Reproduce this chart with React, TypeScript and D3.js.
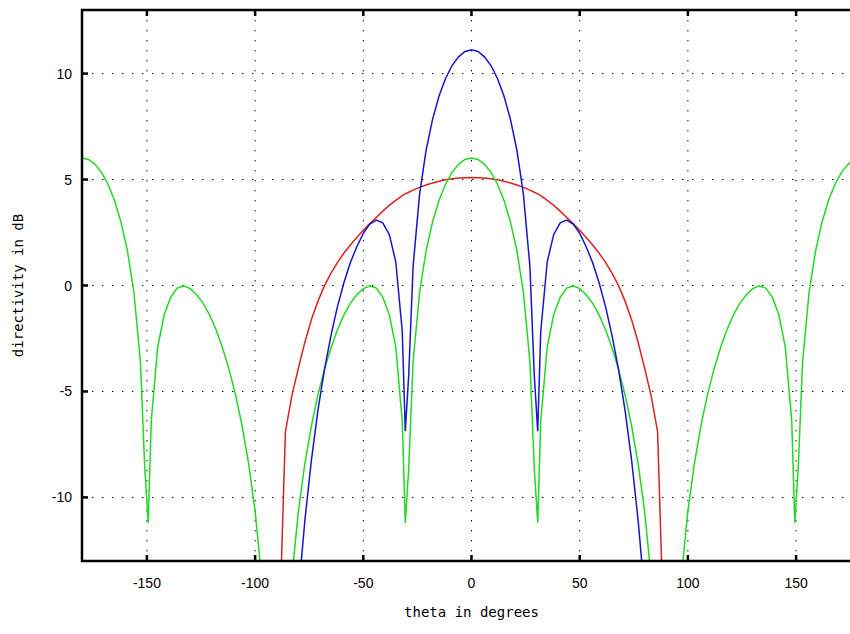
import * as d3 from "d3";

// sample angles in degrees (shared by all three curves)
const angles = [
  -180, -177, -174, -171, -168, -165, -162, -159, -156, -153, -151, -149.4, -148, -145, -142, -139,
  -136, -133, -130, -127, -124, -121, -118, -115, -112, -109, -106, -103, -100, -97, -94, -92, -90,
  -88, -86, -83, -80, -77, -74, -71, -68, -65, -62, -59, -56, -53, -50, -47, -44, -41, -38, -35,
  -32, -30.6, -29, -27, -24, -21, -18, -15, -12, -9, -6, -3, 0,
  3, 6, 9, 12, 15, 18, 21, 24, 27, 29, 30.6, 32, 35, 38, 41, 44, 47, 50, 53, 56, 59, 62, 65, 68,
  71, 74, 77, 80, 83, 86, 88, 90, 92, 94, 97, 100, 103, 106, 109, 112, 115, 118, 121, 124, 127,
  130, 133, 136, 139, 142, 145, 148, 149.4, 151, 153, 156, 159, 162, 165, 168, 171, 174, 177, 180,
];

// element pattern (red)
const redDb = [
  null, null, null, null, null, null, null, null, null, null, null, null, null, null, null, null,
  null, null, null, null, null, null, null, null, null, null, null, null, null, null, null, null, null,
  -13.6, -6.9, -5.2, -3.9, -2.68, -1.62, -0.75, -0.02, 0.57, 1.08, 1.52, 1.91, 2.27, 2.61, 2.92, 3.21, 3.51, 3.78, 4.02,
  4.24, 4.32, 4.4, 4.5, 4.63, 4.74, 4.84, 4.92, 4.99, 5.04, 5.07, 5.09, 5.1,
  5.09, 5.07, 5.04, 4.99, 4.92, 4.84, 4.74, 4.63, 4.5, 4.4, 4.32, 4.24, 4.02, 3.78, 3.51, 3.21, 2.92, 2.61, 2.27, 1.91, 1.52, 1.08, 0.57, -0.02,
  -0.75, -1.62, -2.68, -3.9, -5.2, -6.9, -13.6, null, null, null, null, null, null, null, null, null, null, null, null,
  null, null, null, null, null, null, null, null, null, null, null, null, null, null, null, null, null, null, null, null,
];

// total directivity (blue)
const blueDb = [
  null, null, null, null, null, null, null, null, null, null, null, null, null, null, null, null,
  null, null, null, null, null, null, null, null, null, null, null, null, null, null, null, null, null,
  null, -25.5, -18.95, -14.55, -11.08, -8.25, -5.92, -3.99, -2.39, -1.02, 0.12, 1.07, 1.83, 2.46, 2.9, 3.09, 2.96, 2.41, 1.12,
  -2.16, -6.88, -4.21, 0.89, 4.3, 6.37, 7.84, 8.94, 9.77, 10.38, 10.79, 11.04, 11.12,
  11.04, 10.79, 10.38, 9.77, 8.94, 7.84, 6.37, 4.3, 0.89, -4.21, -6.88, -2.16, 1.12, 2.41, 2.96, 3.09, 2.9, 2.46, 1.83, 1.07, 0.12, -1.02, -2.39, -3.99,
  -5.92, -8.25, -11.08, -14.55, -18.95, -25.5, null, null, null, null, null, null, null, null, null, null, null, null,
  null, null, null, null, null, null, null, null, null, null, null, null, null, null, null, null, null, null, null, null,
];

// array factor (green)
const greenDb = [
  6.02, 5.95, 5.72, 5.34, 4.78, 4.02, 3.0, 1.63, -0.33, -3.61, -8.61, -11.2, -6.4, -2.9, -1.37, -0.55,
  -0.12, -0.02, -0.15, -0.44, -0.84, -1.4, -2.1, -2.96, -3.97, -5.17, -6.63, -8.4, -10.65, -13.75, -18.6, -24.6, -40,
  -24.6, -18.6, -13.75, -10.65, -8.4, -6.63, -5.17, -3.97, -2.96, -2.1, -1.4, -0.84, -0.44, -0.15, -0.02, -0.12, -0.55, -1.37, -2.9,
  -6.4, -11.2, -8.61, -3.61, -0.33, 1.63, 3.0, 4.02, 4.78, 5.34, 5.72, 5.95, 6.02,
  5.95, 5.72, 5.34, 4.78, 4.02, 3.0, 1.63, -0.33, -3.61, -8.61, -11.2, -6.4, -2.9, -1.37, -0.55, -0.12, -0.02, -0.15, -0.44, -0.84, -1.4, -2.1, -2.96, -3.97,
  -5.17, -6.63, -8.4, -10.65, -13.75, -18.6, -24.6, -40, -24.6, -18.6, -13.75, -10.65, -8.4, -6.63, -5.17, -3.97, -2.96, -2.1, -1.4, -0.84, -0.44,
  -0.15, -0.02, -0.12, -0.55, -1.37, -2.9, -6.4, -11.2, -8.61, -3.61, -0.33, 1.63, 3.0, 4.02, 4.78, 5.34, 5.72, 5.95, 6.02,
];

const xTicks = [-150, -100, -50, 0, 50, 100, 150];
const yTicks = [-10, -5, 0, 5, 10];

const series = [
  { name: "element", values: redDb, color: "#dd2020" },
  { name: "array", values: greenDb, color: "#22d822" },
  { name: "total", values: blueDb, color: "#1616c8" },
];

export default function App() {
  const width = 850;
  const height = 634;
  const marginLeft = 82;
  const marginTop = 10;
  const plotRight = 861; // right edge of the frame lies just off the picture
  const plotBottom = 561;

  //scales
  const x = d3.scaleLinear([-180, 180], [marginLeft, plotRight]);
  const y = d3.scaleLinear([-13, 13], [plotBottom, marginTop]);

  const line = (vals: (number | null)[]) =>
    d3
      .line<number>()
      .defined((_, i) => vals[i] != null)
      .x((a) => x(a))
      .y((_, i) => y(vals[i] as number))(angles);

  const tickFont = "'Liberation Sans', Arial, sans-serif";
  const titleFont = "'DejaVu Sans Mono', 'Liberation Mono', monospace";

  return (
    <svg
      width={width}
      height={height}
      style={{ position: "absolute", left: 0, top: 0, background: "#fff" }}
    >
      <defs>
        <clipPath id="plot">
          <rect x={marginLeft} y={marginTop} width={plotRight - marginLeft} height={plotBottom - marginTop} />
        </clipPath>
      </defs>

      {/* dotted grid */}
      <g stroke="#000" strokeWidth={1} strokeDasharray="1.4 8.6">
        {xTicks.map((t) => (
          <line key={"gx" + t} x1={x(t)} x2={x(t)} y1={marginTop} y2={plotBottom} />
        ))}
        {yTicks.map((t) => (
          <line key={"gy" + t} x1={marginLeft} x2={plotRight} y1={y(t)} y2={y(t)} />
        ))}
      </g>

      {/* curves */}
      <g clipPath="url(#plot)" fill="none" strokeWidth={1.5}>
        {series.map((s) => (
          <path key={s.name} d={line(s.values) || ""} stroke={s.color} />
        ))}
      </g>

      {/* frame and ticks */}
      <g stroke="#000" strokeWidth={2.5} fill="none">
        <rect x={marginLeft} y={marginTop} width={plotRight - marginLeft} height={plotBottom - marginTop} />
        {xTicks.map((t) => (
          <g key={"tx" + t}>
            <line x1={x(t)} x2={x(t)} y1={plotBottom} y2={plotBottom - 6} />
            <line x1={x(t)} x2={x(t)} y1={marginTop} y2={marginTop + 6} />
          </g>
        ))}
        {yTicks.map((t) => (
          <line key={"ty" + t} x1={marginLeft} x2={marginLeft + 6} y1={y(t)} y2={y(t)} />
        ))}
      </g>

      {/* tick labels */}
      <g fontFamily={tickFont} fontSize={14} fill="#000">
        {xTicks.map((t) => (
          <text key={"lx" + t} x={x(t)} y={plotBottom + 27} textAnchor="middle">
            {t}
          </text>
        ))}
        {yTicks.map((t) => (
          <text key={"ly" + t} x={marginLeft - 10} y={y(t) + 5} textAnchor="end">
            {t}
          </text>
        ))}
      </g>

      {/* axis titles */}
      <g fontFamily={titleFont} fontSize={14} fill="#000">
        <text x={x(0)} y={617} textAnchor="middle">
          theta in degrees
        </text>
        <text transform={`translate(23,${y(0)}) rotate(-90)`} textAnchor="middle">
          directivity in dB
        </text>
      </g>
    </svg>
  );
}
